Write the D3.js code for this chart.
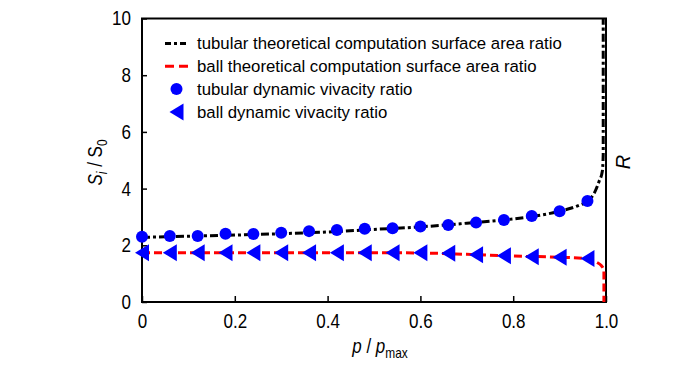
<!DOCTYPE html>
<html>
<head>
<meta charset="utf-8">
<script src="https://cdn.jsdelivr.net/npm/d3@7"></script>
<style>
  body { margin: 0; background: #fff; }
  svg text { font-family: "Liberation Sans", Arial, sans-serif; fill: #000; }
</style>
</head>
<body>
<div id="chart"></div>
<script>
// measured points (p / pmax)
var pointP = [0, 0.06, 0.12, 0.18, 0.24, 0.30, 0.36, 0.42, 0.48, 0.54, 0.60, 0.66, 0.72, 0.78, 0.84, 0.90, 0.96];
var tubularVivacity = [2.30, 2.33, 2.33, 2.41, 2.40, 2.44, 2.50, 2.54, 2.58, 2.60, 2.66, 2.72, 2.80, 2.89, 3.03, 3.20, 3.56];
var ballVivacity = [1.74, 1.74, 1.74, 1.74, 1.74, 1.74, 1.74, 1.74, 1.74, 1.74, 1.74, 1.72, 1.67, 1.63, 1.60, 1.58, 1.53];

// theoretical curves
var tubularTheoryP = [0, 0.1, 0.2, 0.3, 0.4, 0.5, 0.6, 0.7, 0.8, 0.85, 0.9, 0.94, 0.96, 0.975, 0.985, 0.992, 0.994, 0.994];
var tubularTheoryS = [2.28, 2.32, 2.36, 2.41, 2.47, 2.56, 2.65, 2.78, 2.93, 3.04, 3.20, 3.40, 3.56, 3.85, 4.25, 4.6, 5.2, 10];
var ballTheoryP = [0, 0.1, 0.2, 0.3, 0.4, 0.5, 0.6, 0.7, 0.8, 0.9, 0.96, 0.98, 0.99, 0.9955, 0.9955];
var ballTheoryS = [1.74, 1.74, 1.74, 1.74, 1.74, 1.74, 1.73, 1.68, 1.62, 1.58, 1.53, 1.40, 1.28, 1.12, 0];

var xTicks = [0, 0.2, 0.4, 0.6, 0.8, 1.0];
var yTicks = [0, 2, 4, 6, 8, 10];
var legendLabels = [
  'tubular theoretical computation surface area ratio',
  'ball theoretical computation surface area ratio',
  'tubular dynamic vivacity ratio',
  'ball dynamic vivacity ratio'
];

var width = 700, height = 373;
var margin = {left: 142, right: 94, top: 18.5, bottom: 71};
var plotW = width - margin.left - margin.right;
var plotH = height - margin.top - margin.bottom;

// squeeze text horizontally, the original uses a narrow face
function condense(sel, f) {
  sel.each(function () {
    var len = this.getComputedTextLength();
    d3.select(this).attr('textLength', len * f).attr('lengthAdjust', 'spacingAndGlyphs');
  });
}

var svg = d3.select('#chart').append('svg')
  .attr('width', width)
  .attr('height', height);

var x = d3.scaleLinear().domain([0, 1]).range([0, plotW]);
var y = d3.scaleLinear().domain([0, 10]).range([plotH, 0]);

var g = svg.append('g')
  .attr('transform', 'translate(' + margin.left + ',' + margin.top + ')');

// frame
g.append('rect')
  .attr('width', plotW).attr('height', plotH)
  .attr('fill', 'none').attr('stroke', '#000').attr('stroke-width', 2);

// axes with inward ticks
var xAxis = g.append('g')
  .call(d3.axisBottom(x).tickValues(xTicks).tickSizeInner(-6).tickSizeOuter(0)
    .tickFormat(function (d) { return d === 0 ? '0' : d3.format('.1f')(d); }))
  .attr('transform', 'translate(0,' + plotH + ')');
xAxis.select('.domain').remove();
xAxis.selectAll('line').attr('stroke-width', 1.5);
xAxis.selectAll('text').attr('font-size', 20).attr('y', 12).attr('dy', '0.71em');

var yAxis = g.append('g')
  .call(d3.axisLeft(y).tickValues(yTicks).tickSizeInner(-5).tickSizeOuter(0));
yAxis.select('.domain').remove();
yAxis.selectAll('line').attr('stroke-width', 1.5);
yAxis.selectAll('text').attr('font-size', 20).attr('x', -11);
svg.selectAll('g').attr('font-family', null);
condense(g.selectAll('.tick text'), 0.85);

// theory lines
var line = d3.line()
  .x(function (d) { return x(d[0]); })
  .y(function (d) { return y(d[1]); });

var tubularTheory = tubularTheoryP.map(function (p, i) { return [p, tubularTheoryS[i]]; });
var ballTheory = ballTheoryP.map(function (p, i) { return [p, ballTheoryS[i]]; });

g.append('path')
  .datum(ballTheory)
  .attr('d', line.curve(d3.curveMonotoneX))
  .attr('fill', 'none')
  .attr('stroke', '#ff0000')
  .attr('stroke-width', 3)
  .attr('stroke-dasharray', '8,4');

g.append('path')
  .datum(tubularTheory)
  .attr('d', line)
  .attr('fill', 'none')
  .attr('stroke', '#000')
  .attr('stroke-width', 3)
  .attr('stroke-dasharray', '8,3,3,3');

// markers
var triangle = 'M-7,0L7,-8.5L7,8.5Z';

g.selectAll('path.ball-pt')
  .data(pointP)
  .enter().append('path')
  .attr('class', 'ball-pt')
  .attr('d', triangle)
  .attr('transform', function (d, i) { return 'translate(' + x(d) + ',' + y(ballVivacity[i]) + ')'; })
  .attr('fill', '#0000ff');

g.selectAll('circle.tube-pt')
  .data(pointP)
  .enter().append('circle')
  .attr('class', 'tube-pt')
  .attr('cx', function (d) { return x(d); })
  .attr('cy', function (d, i) { return y(tubularVivacity[i]); })
  .attr('r', 6)
  .attr('fill', '#0000ff');

// legend
var legend = g.append('g').attr('transform', 'translate(23,25)');
var rowH = 22.8;
legend.selectAll('text')
  .data(legendLabels)
  .enter().append('text')
  .attr('x', 32)
  .attr('y', function (d, i) { return i * rowH; })
  .attr('dy', '0.35em')
  .attr('font-size', 16.8)
  .text(function (d) { return d; });

legend.append('line')
  .attr('x1', 0).attr('x2', 23).attr('y1', 0).attr('y2', 0)
  .attr('stroke', '#000').attr('stroke-width', 3).attr('stroke-dasharray', '6,3,3,3');
legend.append('line')
  .attr('x1', 0).attr('x2', 23).attr('y1', rowH).attr('y2', rowH)
  .attr('stroke', '#ff0000').attr('stroke-width', 3).attr('stroke-dasharray', '9,5');
legend.append('circle')
  .attr('cx', 11.5).attr('cy', rowH * 2).attr('r', 6).attr('fill', '#0000ff');
legend.append('path')
  .attr('d', triangle)
  .attr('transform', 'translate(11.5,' + rowH * 3 + ')')
  .attr('fill', '#0000ff');

// axis titles (narrowed with a scale, as the original face is condensed)
var xTitle = svg.append('text')
  .attr('transform', 'translate(380,353) scale(0.85,1)')
  .attr('text-anchor', 'middle')
  .attr('font-size', 20);
xTitle.append('tspan').attr('font-style', 'italic').text('p');
xTitle.append('tspan').text(' / ');
xTitle.append('tspan').attr('font-style', 'italic').text('p');
xTitle.append('tspan').attr('font-size', 14).attr('dy', 5).text('max');

var yTitle = svg.append('text')
  .attr('transform', 'translate(102,' + (margin.top + 144) + ') rotate(-90) scale(0.85,1)')
  .attr('text-anchor', 'middle')
  .attr('font-size', 20);
yTitle.append('tspan').attr('font-style', 'italic').text('S');
yTitle.append('tspan').attr('font-style', 'italic').attr('font-size', 14).attr('dy', 5).text('i');
yTitle.append('tspan').attr('dy', -5).text(' / S');
yTitle.append('tspan').attr('font-size', 14).attr('dy', 5).text('0');

svg.append('text')
  .attr('transform', 'translate(630,162) rotate(-90)')
  .attr('text-anchor', 'middle')
  .attr('font-size', 20)
  .attr('font-style', 'italic')
  .text('R');
</script>
</body>
</html>
